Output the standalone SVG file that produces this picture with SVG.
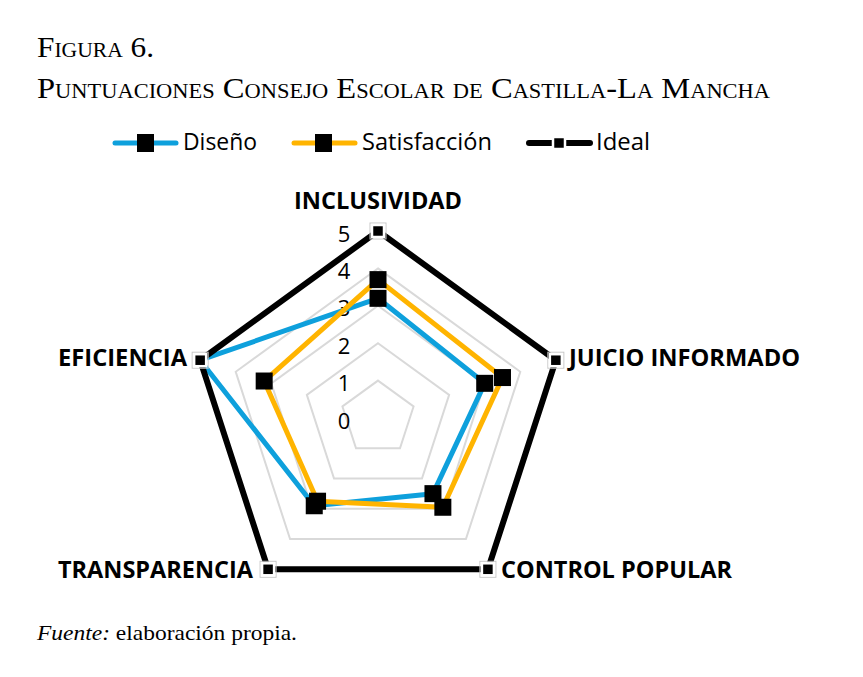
<svg xmlns="http://www.w3.org/2000/svg" width="863" height="677" viewBox="0 0 863 677">
<style>
.title{font-family:"Liberation Serif",serif;font-size:29px;font-variant:small-caps;fill:#000}
.src{font-family:"Liberation Serif",serif;font-size:21px;fill:#000}
.leg{font-family:"Open Sans","Noto Sans",sans-serif;font-size:23px;fill:#000}
.ax{font-family:"Open Sans","Noto Sans",sans-serif;font-size:23.5px;font-weight:bold;fill:#000}
.num{font-family:"Open Sans","Noto Sans",sans-serif;font-size:22px;fill:#000;text-anchor:middle}
.grid{fill:none;stroke:#d9d9d9;stroke-width:2}
.dis{fill:none;stroke:#0ea0dc;stroke-width:5;stroke-linejoin:round}
.sat{fill:none;stroke:#ffb400;stroke-width:5;stroke-linejoin:round}
.ide{fill:none;stroke:#000;stroke-width:6;stroke-linejoin:miter}
.mk{fill:#000}
.mki{fill:#000;stroke:#fff;stroke-width:2.5}
.mko{fill:none;stroke:#c8c8c8;stroke-width:1}
</style>
<rect width="863" height="677" fill="#fff"/>
<g id="title">
<text class="title" x="37" y="57" textLength="117" lengthAdjust="spacingAndGlyphs">Figura 6.</text>
<text class="title" x="37" y="98" textLength="733" lengthAdjust="spacingAndGlyphs">Puntuaciones Consejo Escolar de Castilla-La Mancha</text>
</g>
<g id="legend">
<line x1="115" y1="143" x2="176" y2="143" stroke="#0ea0dc" stroke-width="5" stroke-linecap="round"/>
<rect class="mk" x="137" y="134" width="17" height="18"/>
<text class="leg" x="183" y="149.5" textLength="74" lengthAdjust="spacingAndGlyphs">Diseño</text>
<line x1="294" y1="143" x2="355" y2="143" stroke="#ffb400" stroke-width="5" stroke-linecap="round"/>
<rect class="mk" x="315" y="134" width="17" height="18"/>
<text class="leg" x="362" y="149.5" textLength="130" lengthAdjust="spacingAndGlyphs">Satisfacción</text>
<line x1="529" y1="143" x2="590" y2="143" stroke="#000" stroke-width="6" stroke-linecap="round"/>
<rect class="mki" x="553" y="137" width="12" height="12"/>
<text class="leg" x="596" y="149.5" textLength="54" lengthAdjust="spacingAndGlyphs">Ideal</text>
</g>
<g id="grid">
<polygon class="grid" points="378,380.6 413.57,406.44 399.98,448.26 356.02,448.26 342.43,406.44"/>
<polygon class="grid" points="378,343.2 449.14,394.89 421.97,478.52 334.03,478.52 306.86,394.89"/>
<polygon class="grid" points="378,305.8 484.71,383.33 443.95,508.77 312.05,508.77 271.29,383.33"/>
<polygon class="grid" points="378,268.4 520.28,371.77 465.93,539.03 290.07,539.03 235.72,371.77"/>
<polygon class="grid" points="378,231 555.85,360.21 487.92,569.29 268.08,569.29 200.15,360.21"/>
</g>
<g id="scale">
<text class="num" x="344" y="429">0</text>
<text class="num" x="344" y="391">1</text>
<text class="num" x="344" y="354">2</text>
<text class="num" x="344" y="316">3</text>
<text class="num" x="344" y="279">4</text>
<text class="num" x="344" y="242">5</text>
</g>
<g id="connectors">
<polygon id="serie-diseno" class="dis" points="378,298.32 484.71,383.33 432.96,493.64 314.25,505.75 200.15,360.21"/>
<g class="mk">
<rect x="369.5" y="289.82" width="17" height="17"/>
<rect x="476.21" y="374.83" width="17" height="17"/>
<rect x="424.46" y="485.14" width="17" height="17"/>
<rect x="305.75" y="497.25" width="17" height="17"/>
</g>
<polygon id="serie-satisfaccion" class="sat" points="378,279.62 502.49,377.55 442.85,507.26 317.55,501.21 264.18,381.02"/>
<g class="mk">
<rect x="369.5" y="271.12" width="17" height="17"/>
<rect x="493.99" y="369.05" width="17" height="17"/>
<rect x="434.35" y="498.76" width="17" height="17"/>
<rect x="309.05" y="492.71" width="17" height="17"/>
<rect x="255.68" y="372.52" width="17" height="17"/>
</g>
<polygon id="serie-ideal" class="ide" points="378,231 555.85,360.21 487.92,569.29 268.08,569.29 200.15,360.21"/>
<g>
<rect class="mko" x="370" y="223" width="16" height="16"/>
<rect class="mki" x="372" y="225" width="12" height="12"/>
<rect class="mko" x="547.85" y="352.21" width="16" height="16"/>
<rect class="mki" x="549.85" y="354.21" width="12" height="12"/>
<rect class="mko" x="479.92" y="561.29" width="16" height="16"/>
<rect class="mki" x="481.92" y="563.29" width="12" height="12"/>
<rect class="mko" x="260.08" y="561.29" width="16" height="16"/>
<rect class="mki" x="262.08" y="563.29" width="12" height="12"/>
<rect class="mko" x="192.15" y="352.21" width="16" height="16"/>
<rect class="mki" x="194.15" y="354.21" width="12" height="12"/>
</g>
</g>
<g id="axis-labels">
<text id="n-inclusividad" class="ax" x="294" y="209" textLength="168" lengthAdjust="spacingAndGlyphs">INCLUSIVIDAD</text>
<text id="n-juicio" class="ax" x="569" y="366" textLength="231" lengthAdjust="spacingAndGlyphs">JUICIO INFORMADO</text>
<text id="n-control" class="ax" x="501" y="578" textLength="231" lengthAdjust="spacingAndGlyphs">CONTROL POPULAR</text>
<text id="n-transparencia" class="ax" x="58" y="578" textLength="195" lengthAdjust="spacingAndGlyphs">TRANSPARENCIA</text>
<text id="n-eficiencia" class="ax" x="58" y="366" textLength="129" lengthAdjust="spacingAndGlyphs">EFICIENCIA</text>
</g>
<g id="source">
<text class="src" x="37" y="640" textLength="260" lengthAdjust="spacingAndGlyphs"><tspan font-style="italic">Fuente:</tspan> elaboración propia.</text>
</g>
</svg>
